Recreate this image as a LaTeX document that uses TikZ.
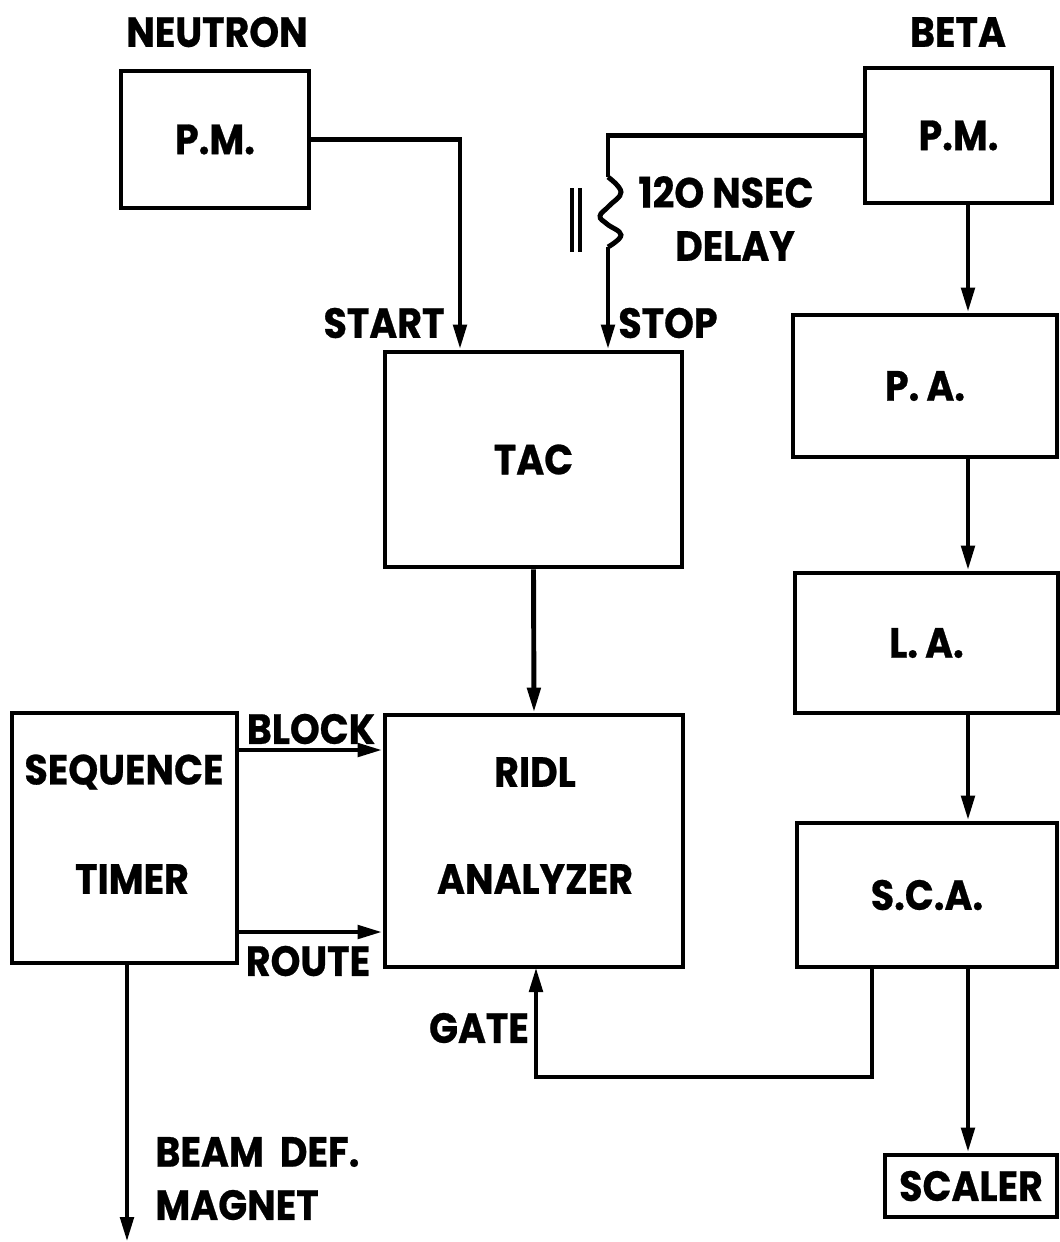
\documentclass[tikz,border=0pt]{standalone}
\usepackage{fontspec}
\setmainfont{Poppins}[FakeStretch=0.9,BoldFeatures={FakeBold=0.6}]
\usetikzlibrary{arrows.meta,calc}
\begin{document}
\begin{tikzpicture}[x=0.02cm,y=-0.02cm,
  line width=2.8pt,
  blk/.style={draw,rectangle,inner sep=0pt,font=\fontsize{24}{26}\selectfont\bfseries},
  lbl/.style={inner sep=0pt,font=\fontsize{24}{26}\selectfont\bfseries},
  arr/.style={-{Triangle[length=0.5cm,width=0.26cm]}}]
\useasboundingbox (0,0) rectangle (1060,1242);
% boxes
\node[blk,minimum width=3.76cm,minimum height=2.74cm] (npm) at (215,139.5) {P.M.};
\node[blk,minimum width=3.74cm,minimum height=2.70cm] (bpm) at (958.5,135.5) {P.M.};
\node[blk,minimum width=5.94cm,minimum height=4.30cm] (tac) at (533.5,459.5) {TAC};
\node[blk,minimum width=5.96cm,minimum height=5.04cm] (ridl) at (534,841) {};
\node[blk,minimum width=4.50cm,minimum height=5.00cm] (seq) at (124.5,838) {};
\node[blk,minimum width=5.28cm,minimum height=2.84cm] (pa) at (925,386) {P.\,A.};
\node[blk,minimum width=5.26cm,minimum height=2.80cm] (la) at (926.5,643) {L.\,A.};
\node[blk,minimum width=5.20cm,minimum height=2.88cm] (sca) at (927,895) {S.C.A.};
\node[blk,minimum width=3.44cm,minimum height=1.24cm] (scaler) at (971,1186) {SCALER};
% texts
\node[lbl] (neutron) at (217,32) {NEUTRON};
\node[lbl] (beta) at (958,32) {BETA};
\node[lbl] (start) at (384,323) {START};
\node[lbl] (stop) at (668,323) {STOP};
\node[lbl] (nsec) at (726,192) {12O NSEC};
\node[lbl] (delay) at (735,246) {DELAY};
\node[lbl] (ridlt) at (535,772) {RIDL};
\node[lbl] (anal) at (535,879) {ANALYZER};
\node[lbl] (seqt) at (124,772) {SEQUENCE};
\node[lbl] (timer) at (132,879) {TIMER};
\node[lbl] (block) at (311,729) {BLOCK};
\node[lbl] (route) at (308,961) {ROUTE};
\node[lbl] (gate) at (479,1028) {GATE};
\node[lbl,anchor=west] (beam) at (153,1152) {BEAM\ \ DEF.};
\node[lbl,anchor=west] (magnet) at (153,1205) {MAGNET};
% helper coordinates
\coordinate (sx) at (460,0);
\coordinate (dx) at (608,0);
\coordinate (rx) at (968,0);
\coordinate (gx) at (872,0);
\coordinate (by) at (0,750);
\coordinate (ry) at (0,932);
\coordinate (d1) at (608,177);
\coordinate (d2) at (608,247);
\coordinate (gc) at (536,1077);
\coordinate (gin) at (536,967);
\coordinate (bend) at (127,1242);
% connectors
\draw[arr] (npm.east) -| (sx |- tac.north);
\draw (bpm.west) -| (d1);
\draw plot[smooth,tension=0.7] coordinates {(608,177) (621,192) (609,206) (600,216) (607,224) (621,235) (608,247)};
\draw[arr] (d2) -- (dx |- tac.north);
\draw[line width=2.4pt] (572,188) -- (572,252) (580,188) -- (580,252);
\draw[arr] (tac.south) -- (ridl.north);
\draw[arr] (seq.east |- by) -- (ridl.west |- by);
\draw[arr] (seq.east |- ry) -- (ridl.west |- ry);
\draw[arr] (seq.south -| bend) -- (bend);
\draw[arr] (rx |- bpm.south) -- (rx |- pa.north);
\draw[arr] (rx |- pa.south) -- (rx |- la.north);
\draw[arr] (rx |- la.south) -- (rx |- sca.north);
\draw[arr] (rx |- sca.south) -- (rx |- scaler.north);
\draw[arr] (gx |- sca.south) |- (gc) -- (gin);
\end{tikzpicture}
\end{document}
